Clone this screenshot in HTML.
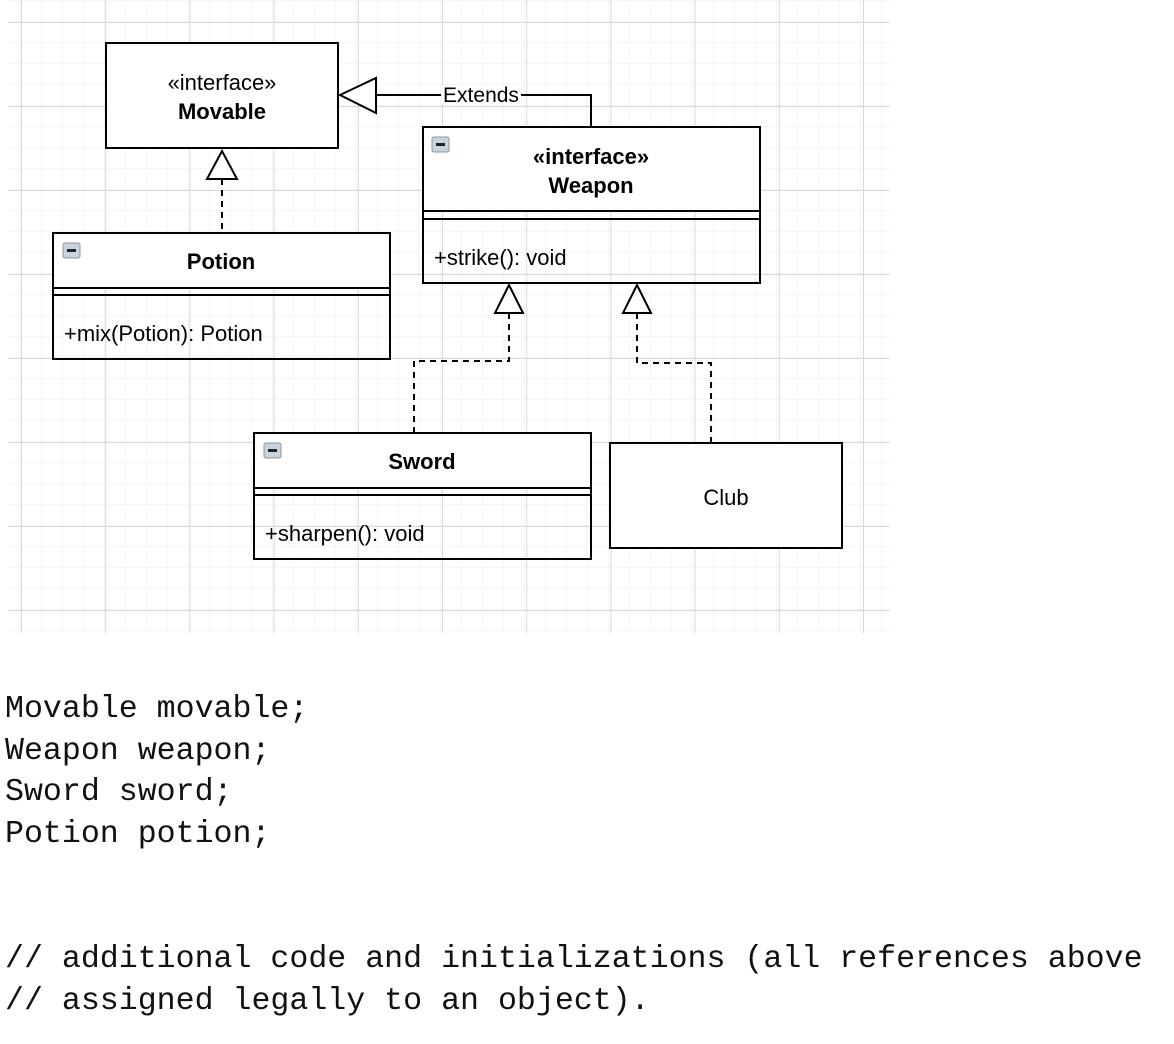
<!DOCTYPE html>
<html><head><style>
body{margin:0;width:1174px;height:1044px;background:#fff;overflow:hidden;position:relative}
pre{position:absolute;left:5px;margin:0;font-family:"Liberation Mono",monospace;font-size:31.6px;line-height:41.7px;color:#111}
</style></head><body>
<svg width="1174" height="640" style="position:absolute;left:0;top:0" font-family="Liberation Sans, sans-serif">
<defs>
<pattern id="minor" x="0" y="1" width="21" height="21" patternUnits="userSpaceOnUse"><path d="M21 0V21M0 21H21" stroke="#ececec" stroke-width="1" fill="none"/></pattern>
<pattern id="major" x="21" y="22" width="84.2" height="84" patternUnits="userSpaceOnUse"><path d="M0.5 0V84M0 0.5H84.2" stroke="#d9d9d9" stroke-width="1" fill="none"/></pattern>
</defs>
<rect x="8" y="0" width="882" height="633" fill="url(#minor)"/>
<rect x="8" y="0" width="882" height="633" fill="url(#major)"/>
<g stroke="#000" stroke-width="2" fill="#fff">
<rect x="106" y="43" width="232" height="105"/>
<rect x="423" y="127" width="337" height="84"/>
<rect x="423" y="127" width="337" height="156" fill="none"/>
<line x1="423" y1="219" x2="760" y2="219"/>
<rect x="53" y="233" width="337" height="55"/>
<rect x="53" y="233" width="337" height="126" fill="none"/>
<line x1="53" y1="295" x2="390" y2="295"/>
<rect x="254" y="433" width="337" height="55"/>
<rect x="254" y="433" width="337" height="126" fill="none"/>
<line x1="254" y1="495" x2="591" y2="495"/>
<rect x="610" y="443" width="232" height="105"/>
</g>
<g stroke="#000" stroke-width="2" fill="none">
<polyline points="591,127 591,95 376,95"/>
<polygon points="340,95 376,78 376,113" fill="#fff"/>
<line x1="222" y1="179" x2="222" y2="233" stroke-dasharray="6,5"/>
<polygon points="222,151 207,179 237,179" fill="#fff"/>
<polyline points="414,433 414,361 509,361 509,313" stroke-dasharray="6,5"/>
<polygon points="509,285 495,313 523,313" fill="#fff"/>
<polyline points="711,443 711,363 637,363 637,313" stroke-dasharray="6,5"/>
<polygon points="637,285 623,313 651,313" fill="#fff"/>
</g>
<rect x="441" y="86" width="80" height="18" fill="#fff"/>
<text x="481" y="102" font-size="21" text-anchor="middle">Extends</text>
<g>
<rect x="432" y="137" width="17" height="15" rx="2" fill="#c9d3dc" stroke="#8a97a3"/><rect x="436" y="143" width="9" height="3" fill="#222"/>
<rect x="63" y="243" width="17" height="15" rx="2" fill="#c9d3dc" stroke="#8a97a3"/><rect x="67" y="249" width="9" height="3" fill="#222"/>
<rect x="264" y="443" width="17" height="15" rx="2" fill="#c9d3dc" stroke="#8a97a3"/><rect x="268" y="449" width="9" height="3" fill="#222"/>
</g>
<g font-size="22" text-anchor="middle">
<text x="222" y="90">«interface»</text>
<text x="222" y="119" font-weight="bold">Movable</text>
<text x="591" y="164" font-weight="bold">«interface»</text>
<text x="591" y="193" font-weight="bold">Weapon</text>
<text x="221" y="269" font-weight="bold">Potion</text>
<text x="422" y="469" font-weight="bold">Sword</text>
<text x="726" y="505">Club</text>
</g>
<g font-size="22">
<text x="434" y="265">+strike(): void</text>
<text x="64" y="341">+mix(Potion): Potion</text>
<text x="265" y="541">+sharpen(): void</text>
</g>
</svg>
<pre style="top:689px">Movable movable;
Weapon weapon;
Sword sword;
Potion potion;</pre>
<pre style="top:939px">// additional code and initializations (all references above
// assigned legally to an object).</pre>
</body></html>
